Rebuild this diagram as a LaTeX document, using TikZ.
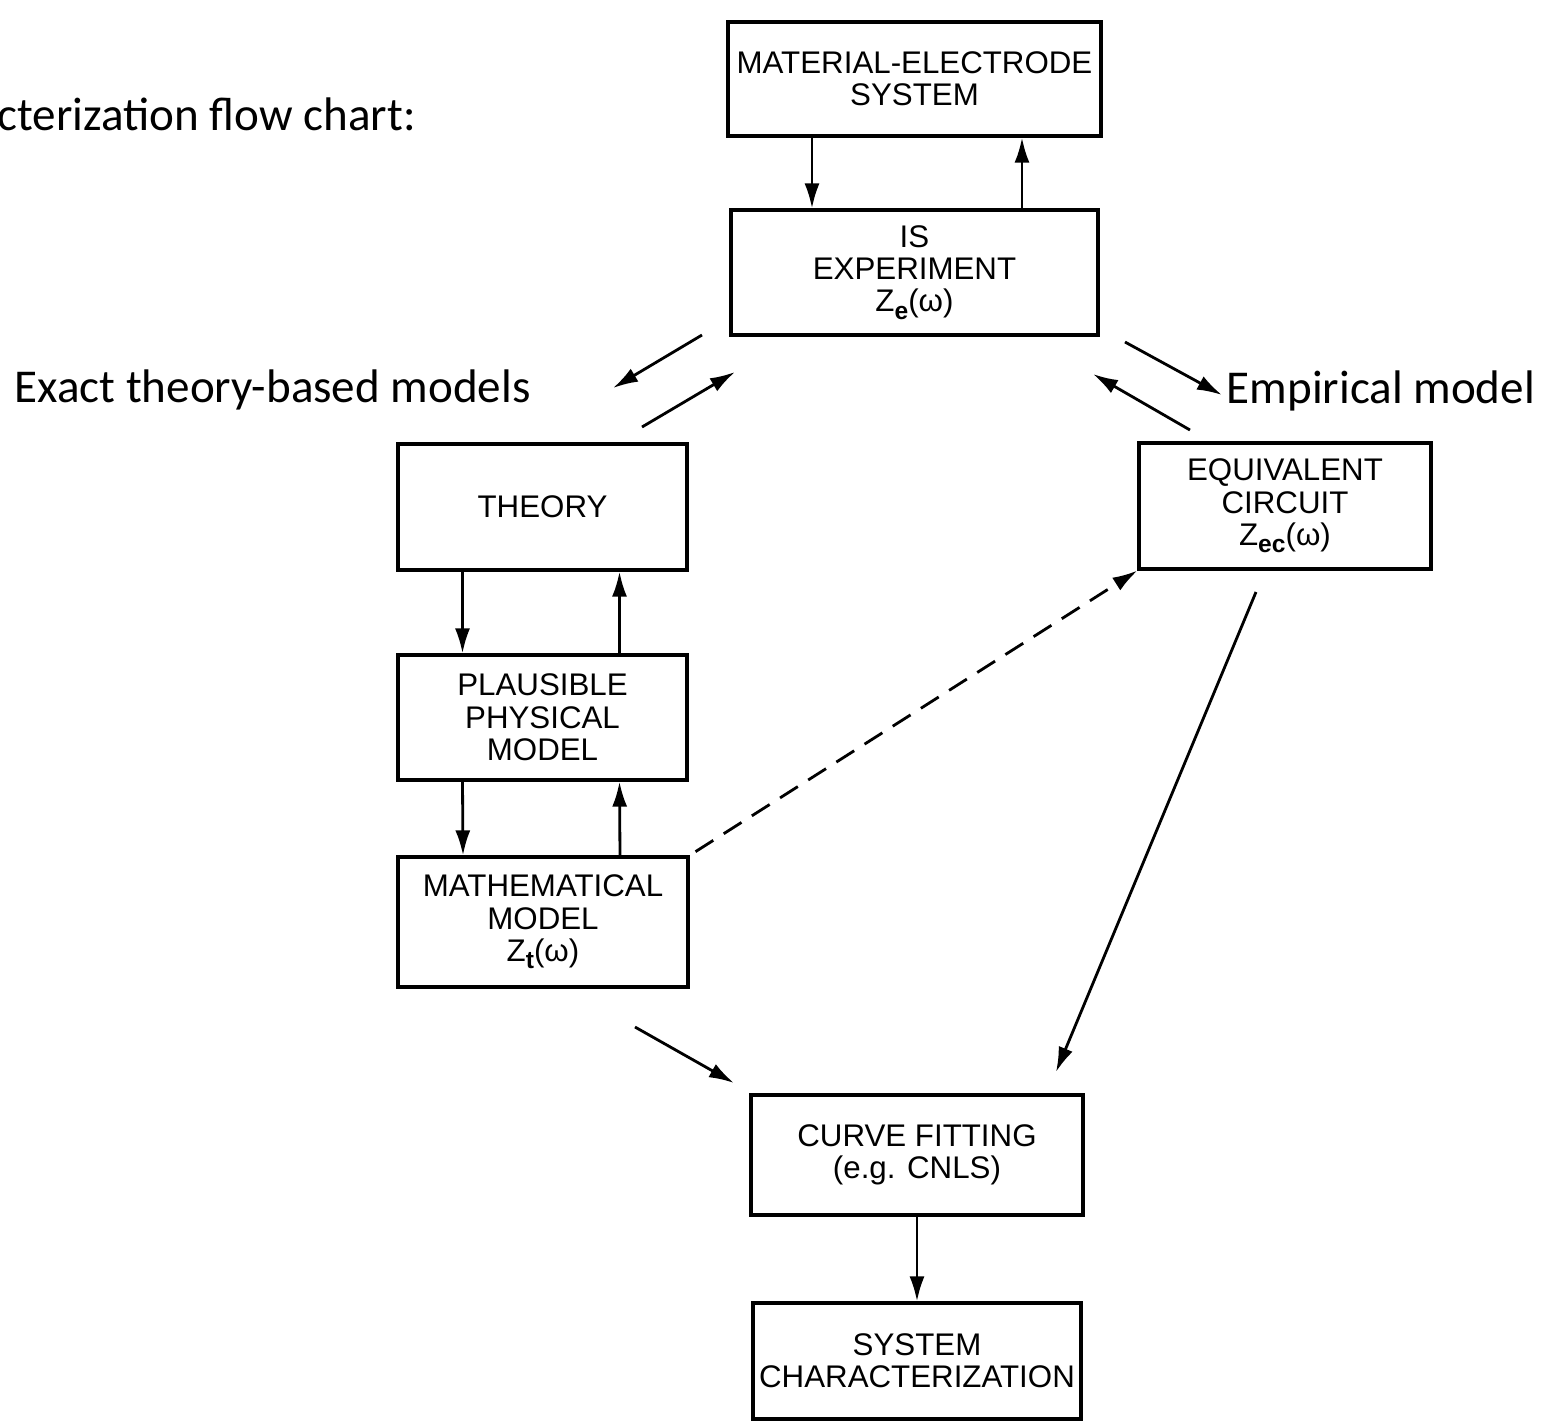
\documentclass[tikz,border=0pt]{standalone}
\usepackage{fontspec}
\setmainfont{Liberation Sans}
\newfontfamily\notefont{Carlito}
\usepackage{tikz}
\usetikzlibrary{arrows.meta}
\newcommand{\lowidx}[1]{\raisebox{-0.45ex}{\fontsize{7}{7}\selectfont\bfseries #1}}

\begin{document}
\begin{tikzpicture}[
        box/.style={draw, line width=0.9pt, align=center, inner sep=0pt, font=\fontsize{8.9}{9.2}\selectfont},
        link/.style={line width=0.8pt, -{Latex[length=2.5mm,width=1.5mm]}},
        note/.style={anchor=base west, inner sep=0pt, font=\notefont\fontsize{13.4}{16}\selectfont}
    ]
            \useasboundingbox (0,0) rectangle (15.49,-14.22);
            \node[note] (title) at (-0.03,-1.30) {cterization flow chart:};
            \node[note] (exact) at (0.14,-4.02) {Exact theory-based models};
            \node[note] (empirical) at (12.26,-4.03) {Empirical model};

            \node[box, minimum width=3.73cm, minimum height=1.14cm] (mes) at (9.145,-0.79) {MATERIAL-ELECTRODE\\SYSTEM};
            \node[box, minimum width=3.67cm, minimum height=1.25cm] (is) at (9.145,-2.725) {IS\\EXPERIMENT\\Z\lowidx{e}(ω)};
            \node[box, minimum width=2.89cm, minimum height=1.26cm] (theory) at (5.425,-5.07) {THEORY};
            \node[box, minimum width=2.89cm, minimum height=1.25cm] (plaus) at (5.425,-7.175) {PLAUSIBLE\\PHYSICAL\\MODEL};
            \node[box, minimum width=2.90cm, minimum height=1.30cm] (math) at (5.43,-9.22) {MATHEMATICAL\\MODEL\\Z\lowidx{t}(ω)};
            \node[box, minimum width=2.92cm, minimum height=1.26cm] (equiv) at (12.85,-5.06) {EQUIVALENT\\CIRCUIT\\Z\lowidx{ec}(ω)};
            \node[box, minimum width=3.32cm, minimum height=1.20cm] (curve) at (9.17,-11.55) {CURVE FITTING\\(e.g. CNLS)};
            \node[box, minimum width=3.28cm, minimum height=1.16cm] (system) at (9.17,-13.61) {SYSTEM\\CHARACTERIZATION};

            \coordinate (e1s) at (7.02,-3.35);
            \coordinate (e1e) at (6.13,-3.88);
            \coordinate (e2s) at (6.42,-4.27);
            \coordinate (e2e) at (7.35,-3.72);
            \coordinate (e3s) at (11.25,-3.42);
            \coordinate (e3e) at (12.22,-3.95);
            \coordinate (e4s) at (11.90,-4.30);
            \coordinate (e4e) at (10.93,-3.74);
            \coordinate (e6s) at (6.35,-10.27);
            \coordinate (e6e) at (7.34,-10.83);
            \coordinate (e7s) at (12.56,-5.92);
            \coordinate (e7e) at (10.56,-10.72);

            \draw[link] ([xshift=-1.025cm]mes.south) -- ([xshift=-1.025cm]is.north);
            \draw[link] ([xshift=1.075cm]is.north) -- ([xshift=1.075cm]mes.south);
            \draw[link] ([xshift=-0.80cm]theory.south) -- ([xshift=-0.80cm]plaus.north);
            \draw[link] ([xshift=0.77cm]plaus.north) -- ([xshift=0.77cm]theory.south);
            \draw[link] ([xshift=-0.80cm]plaus.south) -- ([xshift=-0.80cm]math.north);
            \draw[link] ([xshift=0.77cm]math.north) -- ([xshift=0.77cm]plaus.south);
            \draw[link] (curve.south) -- (system.north);
            \draw[link, dash pattern=on 6pt off 3.5pt, shorten <=2pt] (math.north east) -- (equiv.south west);
            \draw[link] (e1s) -- (e1e);
            \draw[link] (e2s) -- (e2e);
            \draw[link] (e3s) -- (e3e);
            \draw[link] (e4s) -- (e4e);
            \draw[link] (e6s) -- (e6e);
            \draw[link] (e7s) -- (e7e);
        \end{tikzpicture}
\end{document}
